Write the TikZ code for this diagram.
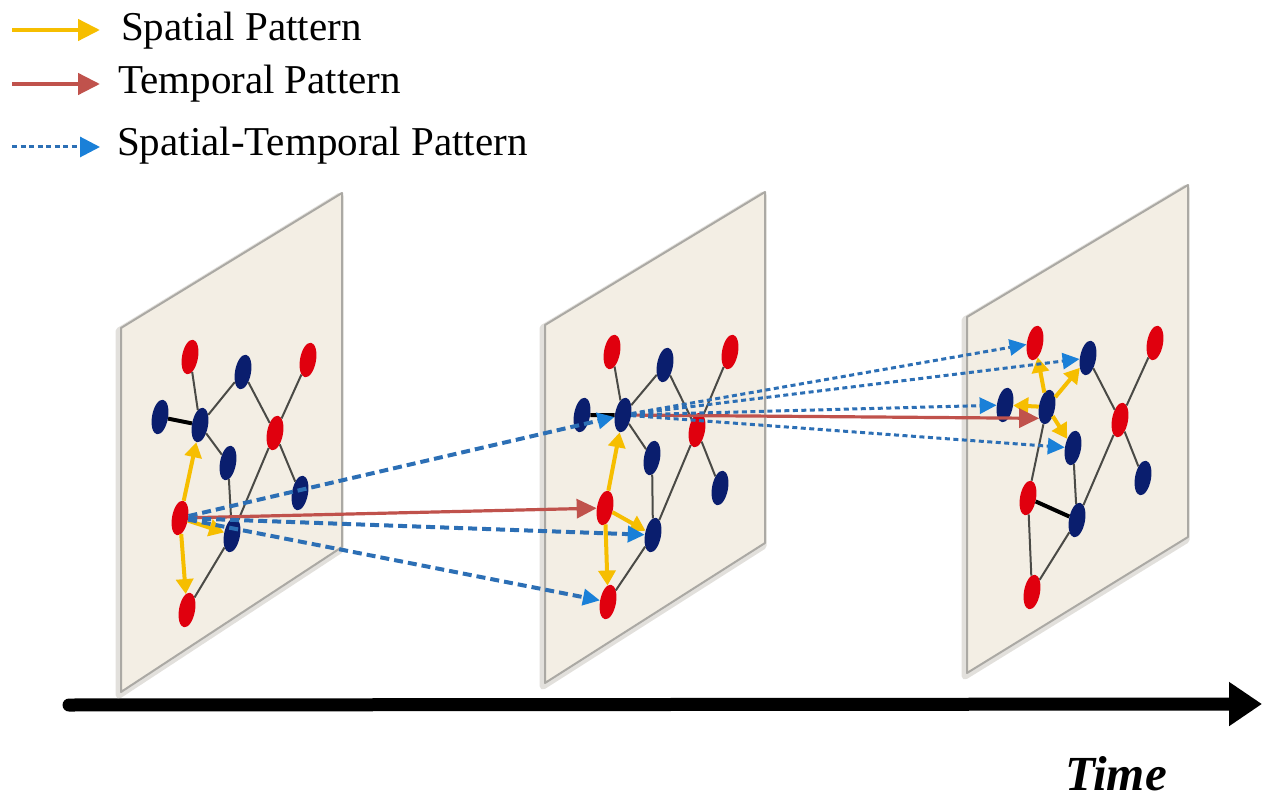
\documentclass[tikz,border=0pt]{standalone}
\usepackage{fontspec}
\setmainfont{Liberation Serif}
\usepackage{xcolor}
\usepackage{tikz}
\usetikzlibrary{arrows.meta, shapes.geometric}
\definecolor{clrPanel}{HTML}{F3EEE4}
\definecolor{clrPanelEdge}{HTML}{ABA9A4}
\definecolor{clrPanelShade}{HTML}{E2E0DC}
\definecolor{clrRed}{HTML}{E0000E}
\definecolor{clrNavy}{HTML}{0A1E6E}
\definecolor{clrEdge}{HTML}{4A4A46}
\definecolor{clrYellow}{HTML}{F6BE00}
\definecolor{clrRust}{HTML}{C0524C}
\definecolor{clrDash}{HTML}{2C6FB5}
\definecolor{clrDashTip}{HTML}{1A80D8}
\tikzset{
  graph vertex/.style={ellipse, minimum width=16pt, minimum height=35pt, inner sep=0pt, rotate=-10},
  red vertex/.style={graph vertex, fill=clrRed},
  blue vertex/.style={graph vertex, fill=clrNavy},
  graph edge/.style={clrEdge, line width=2pt},
  bond edge/.style={black, line width=4pt},
  panel shade/.style={draw=clrPanelShade, line width=7pt, line join=round},
  panel/.style={fill=clrPanel, draw=clrPanelEdge, line width=2pt, line join=round},
  spatial arr/.style={-{Triangle[length=15pt, width=17pt]}, clrYellow, line width=4pt},
  temporal arr/.style={-{Triangle[length=20pt, width=19pt]}, clrRust, line width=3.2pt},
  st arr/.style={-{Triangle[length=17pt, width=16pt, color=clrDashTip]}, clrDash, line width=4pt, dash pattern=on 9pt off 5pt},
  st arr fine/.style={st arr, line width=3pt, dash pattern=on 5pt off 3.5pt},
  legend arr/.style={line width=4.5pt},
  legend tip/.style={-{Triangle[length=22pt, width=21pt]}},
  legend text/.style={anchor=base west, inner sep=0pt, font=\fontsize{41}{48}\selectfont},
  time label/.style={anchor=base west, inner sep=0pt, font=\fontsize{49}{56}\selectfont\bfseries\itshape},
  time axis/.style={line width=13pt, line cap=round, -{Triangle[length=33pt, width=42pt]}},
}

\begin{document}
\begin{tikzpicture}[x=1pt, y=-1pt]
  \useasboundingbox (0,0) rectangle (1263,799);

  % Legend
  \coordinate (lgSpatialA) at (12,30);
  \coordinate (lgSpatialB) at (100,30);
  \coordinate (lgTemporalA) at (12,84);
  \coordinate (lgTemporalB) at (100,84);
  \coordinate (lgStA) at (12,147);
  \coordinate (lgStB) at (100,147);
  \draw[spatial arr, legend arr, legend tip] (lgSpatialA) -- (lgSpatialB);
  \draw[temporal arr, legend arr, legend tip] (lgTemporalA) -- (lgTemporalB);
  \draw[st arr fine, legend tip, -{Triangle[length=20pt, width=20pt, color=clrDashTip]}] (lgStA) -- (lgStB);
  \node[legend text] (lgSpatial) at (121,41) {Spatial Pattern};
  \node[legend text] (lgTemporal) at (118,94) {Temporal Pattern};
  \node[legend text] (lgSt) at (117,156) {Spatial-Temporal Pattern};

  % Time axis
  \coordinate (tStart) at (69,705);
  \coordinate (tEnd) at (1262,704);
  \draw[time axis] (tStart) -- (tEnd);
  \node[time label] (timeLbl) at (1065,790) {Time};

  % Panels
  \draw[panel shade] (119,331) -- (340,196) -- (340,550) -- (119,695) -- cycle;
  \draw[panel] (121,328) -- (342,193) -- (342,547) -- (121,692) -- cycle;
  \draw[panel shade] (543,328) -- (763,195) -- (763,546) -- (543,686) -- cycle;
  \draw[panel] (545,325) -- (765,192) -- (765,543) -- (545,683) -- cycle;
  \draw[panel shade] (965,320) -- (1186,188) -- (1186,540) -- (965,676) -- cycle;
  \draw[panel] (967,317) -- (1188,185) -- (1188,537) -- (967,673) -- cycle;

  % Graph at t-1
  \node[red vertex] (aR1) at (190,357) {};
  \node[blue vertex] (aB1) at (243,372) {};
  \node[red vertex] (aR2) at (308,360) {};
  \node[blue vertex] (aB2) at (160,417) {};
  \node[blue vertex] (aB3) at (200,425) {};
  \node[red vertex] (aR3) at (275,433) {};
  \node[blue vertex] (aB4) at (228,463) {};
  \node[blue vertex] (aB5) at (300,493) {};
  \node[red vertex] (aR4) at (180,518) {};
  \node[blue vertex] (aB6) at (232,535) {};
  \node[red vertex] (aR5) at (187,610) {};
  \draw[graph edge] (aR1) -- (aB3);
  \draw[graph edge] (aB3) -- (aB1);
  \draw[graph edge] (aB1) -- (aR3);
  \draw[graph edge] (aR2) -- (aR3);
  \draw[graph edge] (aR3) -- (aB5);
  \draw[graph edge] (aR3) -- (aB6);
  \draw[graph edge] (aB3) -- (aB4);
  \draw[graph edge] (aB4) -- (aB6);
  \draw[graph edge] (aB6) -- (aR5);
  \draw[bond edge] (aB2) -- (aB3);
  \draw[spatial arr] (aR4) -- (aB3);
  \draw[spatial arr] (aR4) -- (aB6);
  \draw[spatial arr] (aR4) -- (aR5);

  % Graph at t
  \node[red vertex] (bR1) at (612,352) {};
  \node[blue vertex] (bB1) at (665,365) {};
  \node[red vertex] (bR2) at (730,352) {};
  \node[blue vertex] (bB2) at (582,415) {};
  \node[blue vertex] (bB3) at (623,415) {};
  \node[red vertex] (bR3) at (697,430) {};
  \node[blue vertex] (bB4) at (652,458) {};
  \node[blue vertex] (bB5) at (720,488) {};
  \node[red vertex] (bR4) at (605,508) {};
  \node[blue vertex] (bB6) at (653,535) {};
  \node[red vertex] (bR5) at (608,602) {};
  \draw[graph edge] (bR1) -- (bB3);
  \draw[graph edge] (bB3) -- (bB1);
  \draw[graph edge] (bB1) -- (bR3);
  \draw[graph edge] (bR2) -- (bR3);
  \draw[graph edge] (bR3) -- (bB5);
  \draw[graph edge] (bR3) -- (bB6);
  \draw[graph edge] (bB3) -- (bB4);
  \draw[graph edge] (bB4) -- (bB6);
  \draw[graph edge] (bB6) -- (bR5);
  \draw[bond edge] (bB2) -- (bB3);
  \draw[spatial arr] (bR4) -- (bB3);
  \draw[spatial arr] (bR4) -- (bB6);
  \draw[spatial arr] (bR4) -- (bR5);

  % Graph at t+1
  \node[red vertex] (cR1) at (1035,343) {};
  \node[blue vertex] (cB1) at (1088,358) {};
  \node[red vertex] (cR2) at (1155,343) {};
  \node[blue vertex] (cB2) at (1005,405) {};
  \node[blue vertex] (cB3) at (1047,407) {};
  \node[red vertex] (cR3) at (1120,420) {};
  \node[blue vertex] (cB4) at (1073,448) {};
  \node[blue vertex] (cB5) at (1143,478) {};
  \node[red vertex] (cR4) at (1028,498) {};
  \node[blue vertex] (cB6) at (1077,520) {};
  \node[red vertex] (cR5) at (1032,592) {};
  \draw[graph edge] (cB1) -- (cR3);
  \draw[graph edge] (cR2) -- (cR3);
  \draw[graph edge] (cR3) -- (cB5);
  \draw[graph edge] (cR3) -- (cB6);
  \draw[graph edge] (cB3) -- (cR4);
  \draw[graph edge] (cB4) -- (cB6);
  \draw[graph edge] (cR4) -- (cR5);
  \draw[graph edge] (cB6) -- (cR5);
  \draw[bond edge] (cR4) -- (cB6);
  \draw[spatial arr] (cB3) -- (cR1);
  \draw[spatial arr] (cB3) -- (cB1);
  \draw[spatial arr] (cB3) -- (cB2);
  \draw[spatial arr] (cB3) -- (cB4);

  % Patterns across time
  \draw[temporal arr] (aR4) -- (bR4);
  \draw[st arr] (aR4) -- (bB3);
  \draw[st arr] (aR4) -- (bB6);
  \draw[st arr] (aR4) -- (bR5);
  \draw[temporal arr] (bB3) -- (cB3.south west);
  \draw[st arr fine] (bB3) -- (cR1);
  \draw[st arr fine] (bB3) -- (cB1);
  \draw[st arr fine] (bB3) -- (cB2);
  \draw[st arr fine] (bB3) -- (cB4);
\end{tikzpicture}
\end{document}
